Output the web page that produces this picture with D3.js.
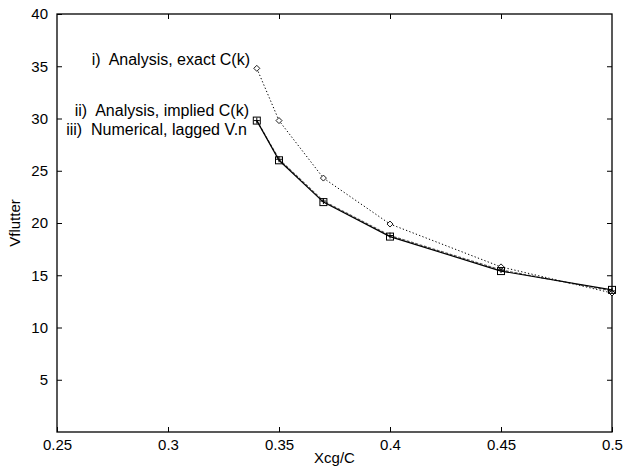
<!DOCTYPE html>
<html><head><meta charset="utf-8">
<script src="https://cdn.jsdelivr.net/npm/d3@7/dist/d3.min.js"></script>
<style>body{margin:0;background:#fff}svg{display:block}text{font-family:"Liberation Sans",Arial,sans-serif;fill:#000;white-space:pre}</style>
</head><body>
<script>
const xcg = [0.34, 0.35, 0.37, 0.40, 0.45, 0.50];
const exactCk = [34.8, 29.8, 24.3, 19.9, 15.8, 13.3];
const impliedCk = [29.8, 26.0, 22.0, 18.7, 15.4, 13.6];
const laggedVn = [29.8, 26.1, 22.1, 18.8, 15.5, 13.5];
const xTicks = [0.25, 0.3, 0.35, 0.4, 0.45, 0.5];
const yTicks = [5, 10, 15, 20, 25, 30, 35, 40];
const labels = ["i)  Analysis, exact C(k)", "ii)  Analysis, implied C(k)", "iii)  Numerical, lagged V.n"];

const W = 624, H = 467;
const m = {l: 57, r: 12, t: 14, b: 35};
const FF = "Liberation Sans, Arial, sans-serif";
const svg = d3.select("body").append("svg").attr("width", W).attr("height", H);
const x = d3.scaleLinear().domain([0.25, 0.5]).range([m.l, W - m.r]);
const y = d3.scaleLinear().domain([0, 40]).range([H - m.b, m.t]);
const iw = W - m.l - m.r, ih = H - m.t - m.b;

svg.append("rect").attr("x", m.l).attr("y", m.t).attr("width", iw).attr("height", ih)
  .attr("fill", "none").attr("stroke", "#000").attr("stroke-width", 1.3);

const tl = 5;
const gx = svg.append("g").attr("transform", `translate(0,${H - m.b})`)
  .call(d3.axisBottom(x).tickValues(xTicks).tickSize(-tl).tickPadding(7).tickFormat(d3.format("")));
gx.select(".domain").remove();
gx.selectAll("text").attr("font-size", 15).attr("font-family", FF);
const gxt = svg.append("g").attr("transform", `translate(0,${m.t})`)
  .call(d3.axisTop(x).tickValues(xTicks.slice(1, -1)).tickSize(-tl).tickFormat(""));
gxt.select(".domain").remove();
const gy = svg.append("g").attr("transform", `translate(${m.l},0)`)
  .call(d3.axisLeft(y).tickValues(yTicks).tickSize(-tl).tickPadding(9).tickFormat(d3.format("")));
gy.select(".domain").remove();
gy.selectAll("text").attr("font-size", 15).attr("font-family", FF);
const gyr = svg.append("g").attr("transform", `translate(${W - m.r},0)`)
  .call(d3.axisRight(y).tickValues(yTicks.slice(0, -1)).tickSize(-tl).tickFormat(""));
gyr.select(".domain").remove();
svg.selectAll(".tick line").attr("stroke", "#000").attr("stroke-width", 1);

svg.append("text").attr("x", x(0.375)).attr("y", 463).attr("text-anchor", "middle")
  .attr("font-size", 15).text("Xcg/C");
svg.append("text").attr("transform", `translate(20,${y(20)}) rotate(-90)`)
  .attr("text-anchor", "middle").attr("font-size", 15).text("Vflutter");

const line = d3.line().x(d => x(d[0])).y(d => y(d[1]));
const pts = arr => xcg.map((v, i) => [v, arr[i]]);

svg.append("path").datum(pts(exactCk)).attr("d", line).attr("fill", "none")
  .attr("stroke", "#000").attr("stroke-width", 1).attr("stroke-dasharray", "1.3,2.2");
svg.append("path").datum(pts(laggedVn)).attr("d", line).attr("fill", "none")
  .attr("stroke", "#555").attr("stroke-width", 1.2).attr("stroke-dasharray", "3,1.5");
svg.append("path").datum(pts(impliedCk)).attr("d", line).attr("fill", "none")
  .attr("stroke", "#000").attr("stroke-width", 1.2);

svg.append("g").selectAll("path").data(pts(exactCk)).join("path")
  .attr("d", d => { const cx = x(d[0]), cy = y(d[1]), r = 3; return `M${cx},${cy-r}L${cx+r},${cy}L${cx},${cy+r}L${cx-r},${cy}Z`; })
  .attr("fill", "#fff").attr("stroke", "#000").attr("stroke-width", 0.9);
svg.append("g").selectAll("rect").data(pts(impliedCk)).join("rect")
  .attr("x", d => x(d[0]) - 3.5).attr("y", d => y(d[1]) - 3.5).attr("width", 7).attr("height", 7)
  .attr("fill", "none").attr("stroke", "#000").attr("stroke-width", 1);
svg.append("g").selectAll("path").data(pts(laggedVn)).join("path")
  .attr("d", d => { const cx = x(d[0]), cy = y(d[1]); return `M${cx-3},${cy}H${cx+3}M${cx},${cy-3}V${cy+3}`; })
  .attr("stroke", "#000").attr("stroke-width", 1);

const labPos = [[250, 65], [249, 116], [247, 135]];
svg.append("g").selectAll("text").data(labels).join("text")
  .attr("x", (d, i) => labPos[i][0]).attr("y", (d, i) => labPos[i][1])
  .attr("text-anchor", "end").attr("font-size", 16).text(d => d);
</script>
</body></html>
